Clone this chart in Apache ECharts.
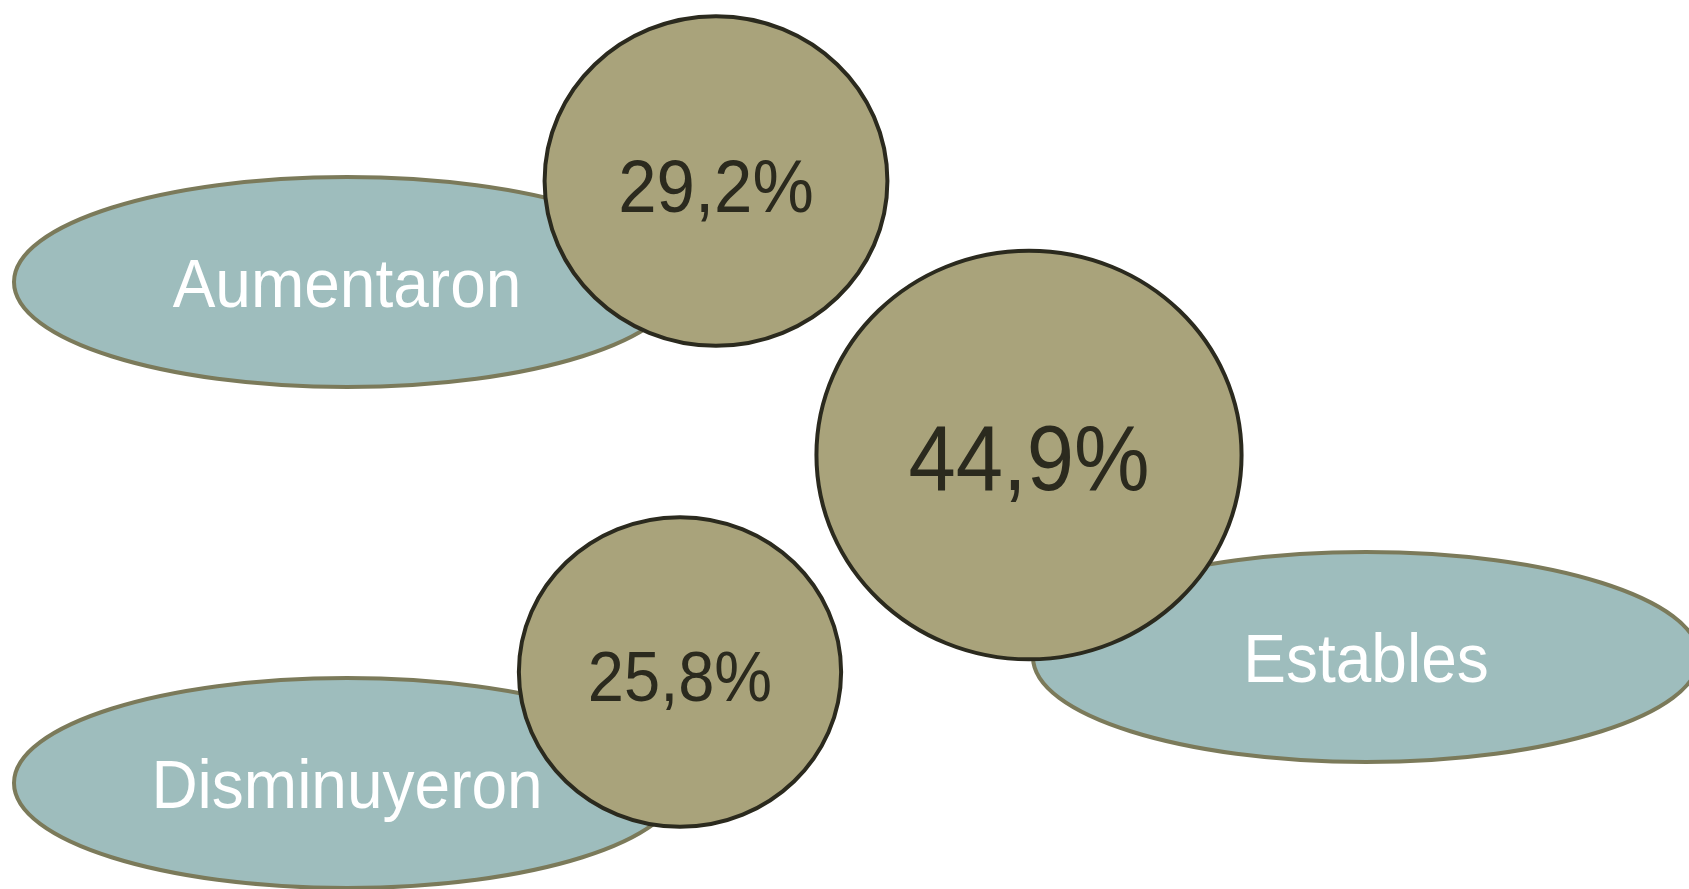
<!DOCTYPE html>
<html lang="es">
<head>
    <meta charset="UTF-8">
    <title>Variación</title>
    <script src="https://cdn.jsdelivr.net/npm/echarts@6/dist/echarts.min.js"></script>
    <style>
        html, body { margin: 0; padding: 0; background: #fff; }
        #main { width: 1689px; height: 889px; }
    </style>
</head>
<body>
<div id="main"></div>
<script>
// datos
var categories = ['Aumentaron', 'Estables', 'Disminuyeron'];
var values = [29.2, 44.9, 25.8];
var labels = ['29,2%', '44,9%', '25,8%'];

// posiciones del diagrama (en unidades de los ejes, 0..1689 x 0..889)
var tagPos = [[347, 282], [1366, 657], [347, 783]];
var bubblePos = [[716, 181], [1029, 455], [680, 672]];

var FONT = '"Liberation Sans", Arial, Helvetica, sans-serif';
var K = 31.1; // radio de la burbuja = K * raiz(valor)

var tagData = categories.map(function (c, i) {
    return [tagPos[i][0], tagPos[i][1], c];
});
var bubbleData = values.map(function (v, i) {
    return [bubblePos[i][0], bubblePos[i][1], v, labels[i]];
});

var myChart = echarts.init(document.getElementById('main'));

var option = {
    animation: false,
    grid: { left: 0, right: 0, top: 0, bottom: 0 },
    xAxis: { type: 'value', min: 0, max: 1689, show: false },
    yAxis: { type: 'value', min: 0, max: 889, inverse: true, show: false },
    series: [
        {
            // elipses con el nombre de la categoria
            type: 'custom',
            coordinateSystem: 'cartesian2d',
            data: tagData,
            renderItem: function (params, api) {
                var p = api.coord([api.value(0), api.value(1)]);
                var s = api.size([333, 105]);
                return {
                    type: 'group',
                    children: [
                        {
                            type: 'ellipse',
                            shape: { cx: p[0], cy: p[1], rx: s[0], ry: s[1] },
                            style: { fill: '#9ebdbd', stroke: '#7b7a5a', lineWidth: 4 }
                        },
                        {
                            type: 'text',
                            x: p[0], y: p[1] + 6,
                            scaleY: 1.07,
                            style: {
                                text: categories[params.dataIndex],
                                fill: '#ffffff',
                                font: '64px ' + FONT,
                                align: 'center',
                                verticalAlign: 'middle'
                            }
                        }
                    ]
                };
            }
        },
        {
            // burbujas con el porcentaje
            type: 'custom',
            coordinateSystem: 'cartesian2d',
            data: bubbleData,
            renderItem: function (params, api) {
                var p = api.coord([api.value(0), api.value(1)]);
                var r = K * Math.sqrt(api.value(2));
                var s = api.size([r * 1.02, r / 1.02]);
                var fs = Math.round(r * 0.41);
                return {
                    type: 'group',
                    children: [
                        {
                            type: 'ellipse',
                            shape: { cx: p[0], cy: p[1], rx: s[0], ry: s[1] },
                            style: { fill: '#a9a37b', stroke: '#2b2a1e', lineWidth: 4 }
                        },
                        {
                            type: 'text',
                            x: p[0], y: p[1] + 10,
                            scaleY: 1.08,
                            style: {
                                text: labels[params.dataIndex],
                                fill: '#2b2a1e',
                                font: fs + 'px ' + FONT,
                                align: 'center',
                                verticalAlign: 'middle'
                            }
                        }
                    ]
                };
            }
        }
    ]
};
myChart.setOption(option);
</script>
</body>
</html>
